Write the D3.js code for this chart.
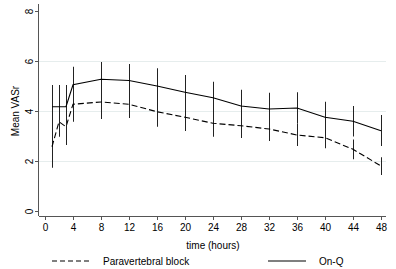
<!DOCTYPE html>
<html lang="en">
  <head>
    <meta charset="UTF-8" />
    <title>VAS over time</title>
    <script src="https://cdn.jsdelivr.net/npm/d3@7/dist/d3.min.js"></script>
    <style>
      body { margin: 0; background: #fff; }
      text { font-family: "Liberation Sans", Arial, sans-serif; fill: #000; }
    </style>
  </head>
  <body>
    <div id="wrapper"></div>
    <script>
      // hours after surgery
      const hours = [1, 2, 3, 4, 8, 12, 16, 20, 24, 28, 32, 36, 40, 44, 48];

      const pvbMean  = [2.57, 3.57, 3.37, 4.27, 4.36, 4.27, 3.97, 3.75, 3.51, 3.41, 3.28, 3.04, 2.93, 2.47, 1.80];
      const pvbLower = [1.73, 2.97, 2.64, 3.57, 3.68, 3.72, 3.37, 3.20, 2.97, 2.92, 2.80, 2.60, 2.51, 2.07, 1.44];
      const pvbUpper = [3.41, 4.17, 4.10, 4.97, 5.03, 4.82, 4.57, 4.30, 4.05, 3.90, 3.76, 3.48, 3.35, 2.86, 2.15];

      const onqMean  = [4.17, 4.17, 4.17, 5.05, 5.27, 5.22, 5.00, 4.75, 4.53, 4.20, 4.08, 4.12, 3.75, 3.59, 3.21];
      const onqLower = [3.30, 3.30, 3.30, 4.33, 4.58, 4.56, 4.29, 4.06, 3.89, 3.55, 3.43, 3.49, 3.13, 2.98, 2.60];
      const onqUpper = [5.04, 5.04, 5.04, 5.77, 5.96, 5.88, 5.71, 5.44, 5.17, 4.85, 4.73, 4.75, 4.37, 4.20, 3.84];

      const xTicks = [0, 4, 8, 12, 16, 20, 24, 28, 32, 36, 40, 44, 48];
      const yTicks = [0, 2, 4, 6, 8];
      const gridLines = [2, 4, 6];

      const series = [
        { name: "Paravertebral block", mean: pvbMean, lower: pvbLower, upper: pvbUpper, dash: "6,3" },
        { name: "On-Q", mean: onqMean, lower: onqLower, upper: onqUpper, dash: null },
      ];

      const width = 396;
      const height = 269;
      const plot = { left: 39, right: 386, top: 4, bottom: 216 };

      const svg = d3.select("#wrapper")
        .append("svg")
        .attr("width", width)
        .attr("height", height);

      const xScale = d3.scaleLinear().domain([0, 48]).range([45, 381]);
      const yScale = d3.scaleLinear().domain([0, 8]).range([211, 11]);

      // grid
      svg.append("g")
        .selectAll("line")
        .data(gridLines)
        .join("line")
        .attr("x1", plot.left)
        .attr("x2", plot.right)
        .attr("y1", d => Math.round(yScale(d)) + 0.5)
        .attr("y2", d => Math.round(yScale(d)) + 0.5)
        .attr("stroke", "#e6eded")
        .attr("stroke-width", 1);

      // x axis
      const xAxis = svg.append("g")
        .attr("transform", `translate(0, ${plot.bottom})`)
        .call(d3.axisBottom(xScale).tickValues(xTicks).tickSize(4).tickPadding(4).tickSizeOuter(0));
      xAxis.select(".domain").attr("d", `M${plot.left},0.5H${plot.right}`);
      xAxis.selectAll("line").attr("stroke", "#555");
      xAxis.select(".domain").attr("stroke", "#555");
      xAxis.selectAll("text").style("font-size", "10px").attr("fill", "#000");

      // y axis
      const yAxis = svg.append("g")
        .attr("transform", `translate(${plot.left}, 0)`)
        .call(d3.axisLeft(yScale).tickValues(yTicks).tickSize(4).tickSizeOuter(0));
      yAxis.select(".domain").attr("d", `M-0.5,${plot.top}V${plot.bottom}`);
      yAxis.selectAll("line").attr("stroke", "#555");
      yAxis.select(".domain").attr("stroke", "#555");
      yAxis.selectAll(".tick text")
        .style("font-size", "10px")
        .attr("fill", "#000")
        .attr("x", 0)
        .attr("dy", null)
        .attr("text-anchor", "middle")
        .attr("transform", "translate(-6.5,0) rotate(-90)");

      svg.append("text")
        .attr("transform", `translate(19, ${yScale(4)}) rotate(-90)`)
        .attr("text-anchor", "middle")
        .style("font-size", "10px")
        .text("Mean VASr");

      svg.append("text")
        .attr("x", 213)
        .attr("y", 249)
        .attr("text-anchor", "middle")
        .style("font-size", "10px")
        .text("time (hours)");

      const line = d3.line()
        .x((d, i) => xScale(hours[i]))
        .y(d => yScale(d));

      series.forEach(s => {
        svg.append("g")
          .selectAll("line")
          .data(hours)
          .join("line")
          .attr("x1", d => xScale(d) + 0.5)
          .attr("x2", d => xScale(d) + 0.5)
          .attr("y1", (d, i) => yScale(s.lower[i]))
          .attr("y2", (d, i) => yScale(s.upper[i]))
          .attr("stroke", "#222")
          .attr("stroke-width", 1);

        svg.append("path")
          .datum(s.mean)
          .attr("d", line)
          .attr("fill", "none")
          .attr("stroke", "#000")
          .attr("stroke-width", 1.1)
          .attr("stroke-dasharray", s.dash);
      });

      // legend
      const legendX = [52, 268];
      const legend = svg.append("g");
      series.forEach((s, i) => {
        legend.append("line")
          .attr("x1", legendX[i])
          .attr("x2", legendX[i] + 38)
          .attr("y1", 261)
          .attr("y2", 261)
          .attr("stroke", "#000")
          .attr("stroke-width", 1.1)
          .attr("stroke-dasharray", s.dash ? "5,3" : null);
        legend.append("text")
          .attr("x", legendX[i] + 51)
          .attr("y", 265)
          .style("font-size", "10px")
          .text(s.name);
      });
    </script>
  </body>
</html>
